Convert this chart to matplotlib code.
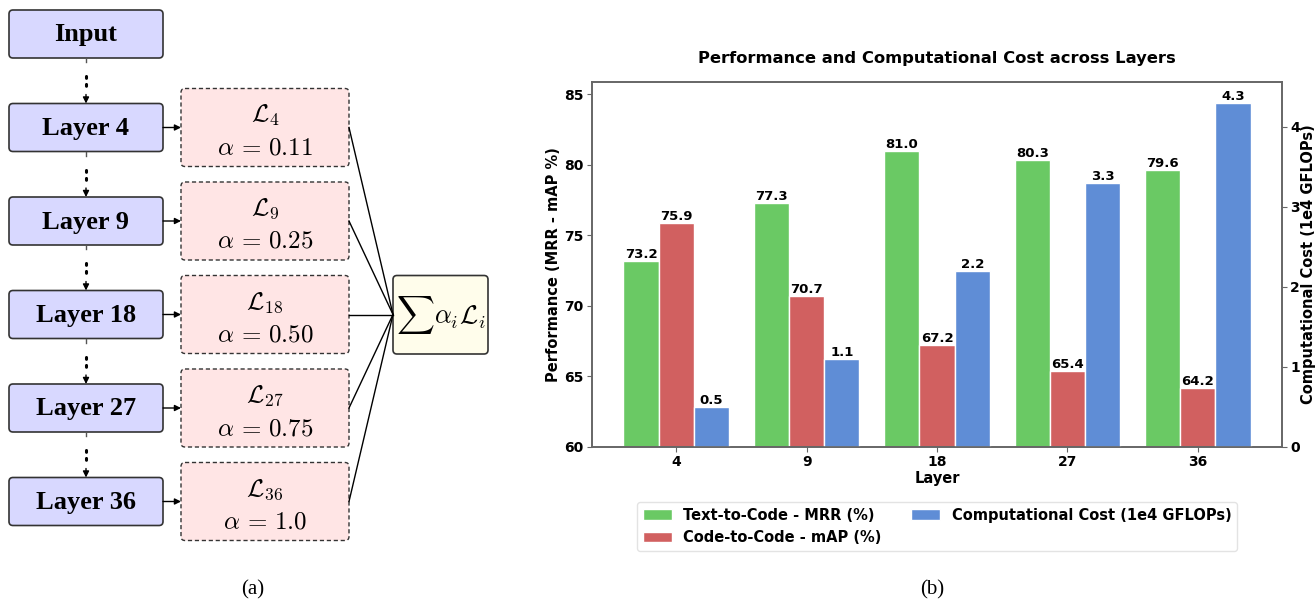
import numpy as np
import matplotlib
matplotlib.use("Agg")
import matplotlib.pyplot as plt
from matplotlib.patches import FancyBboxPatch

plt.rcParams['mathtext.fontset'] = 'cm'

# ---- data ----
layers = ["4", "9", "18", "27", "36"]
text_to_code = [73.2, 77.3, 81.0, 80.3, 79.6]
code_to_code = [75.9, 70.7, 67.2, 65.4, 64.2]
comp_cost = [0.5, 1.1, 2.2, 3.3, 4.3]
alphas = ["0.11", "0.25", "0.50", "0.75", "1.0"]

green = "#6ac964"
red = "#d16060"
blue = "#5f8dd6"

fig = plt.figure(figsize=(13.15, 6.03), dpi=100)

# -------------------------
# (a) diagram, in pixel coords
# -------------------------
ax0 = fig.add_axes([0, 0, 1, 1])
ax0.set_xlim(0, 1315)
ax0.set_ylim(603, 0)
ax0.axis("off")

serif = "Liberation Serif"
row_y = [34 + 93.5 * k for k in range(6)]
names = ["Input"] + ["Layer " + l for l in layers]

for i, (name, cy) in enumerate(zip(names, row_y)):
    ax0.add_patch(FancyBboxPatch((9, cy - 24), 154, 48,
                                 boxstyle="round,pad=0,rounding_size=4",
                                 fc="#d8d8ff", ec="#333333", lw=1.2))
    ax0.text(86, cy + 1, name, ha="center", va="center", family=serif,
             fontweight="bold", fontsize=19)
    if i > 0:
        top = row_y[i - 1] + 24
        ax0.plot([86, 86], [top, top + 4], color="#555555", lw=1)
        ax0.plot([86, 86], [top + 18, top + 32], color="black", lw=2.2,
                 linestyle=(0, (0.6, 2.0)), dash_capstyle="round")
        ax0.annotate("", xy=(86, cy - 24), xytext=(86, cy - 33),
                     arrowprops=dict(arrowstyle="-|>", color="black", lw=1,
                                     mutation_scale=9, shrinkA=0, shrinkB=0))
        # arrow to loss box
        ax0.annotate("", xy=(181, cy), xytext=(163, cy),
                     arrowprops=dict(arrowstyle="-|>", color="black", lw=1,
                                     mutation_scale=9, shrinkA=0, shrinkB=0))
        ax0.add_patch(FancyBboxPatch((181, cy - 39), 168, 78,
                                     boxstyle="round,pad=0,rounding_size=4",
                                     fc="#ffe5e5", ec="#333333", lw=1,
                                     linestyle=(0, (3, 2))))
        ax0.text(265, cy - 12, r"$\mathcal{L}_{%s}$" % layers[i - 1],
                 ha="center", va="center", fontsize=18)
        ax0.text(265, cy + 20, r"$\alpha \,=\, %s$" % alphas[i - 1],
                 ha="center", va="center", fontsize=18)
        ax0.plot([349, 393], [cy, row_y[3]], color="black", lw=1)

ax0.add_patch(FancyBboxPatch((393, 275.5), 95, 78.5,
                             boxstyle="round,pad=0,rounding_size=4",
                             fc="#fffdeb", ec="#333333", lw=1.2))
ax0.text(441, row_y[3], r"$\sum\alpha_i\mathcal{L}_i$", ha="center",
         va="center", fontsize=19)

ax0.text(253, 590, "(a)", ha="center", va="center", family=serif, fontsize=15)
ax0.text(932, 590, "(b)", ha="center", va="center", family=serif, fontsize=15)

# -------------------------
# (b) bar chart
# -------------------------
ax = fig.add_axes([592 / 1315, 156 / 603, 690 / 1315, 365 / 603])
ax2 = ax.twinx()

x = np.arange(len(layers))
w = 0.27
b1 = ax.bar(x - w, text_to_code, w, color=green, edgecolor="white", lw=1,
            label="Text-to-Code - MRR (%)")
b2 = ax.bar(x, code_to_code, w, color=red, edgecolor="white", lw=1,
            label="Code-to-Code - mAP (%)")
b3 = ax2.bar(x + w, comp_cost, w, color=blue, edgecolor="white", lw=1,
             label="Computational Cost (1e4 GFLOPs)")

ax.set_ylim(60, max(text_to_code) * 1.06)
ax2.set_ylim(0, max(comp_cost) * 1.06)

for bars, a in [(b1, ax), (b2, ax), (b3, ax2)]:
    for r in bars:
        h = r.get_height()
        a.text(r.get_x() + r.get_width() / 2, h, f"{h:.1f}", ha="center",
               va="bottom", fontsize=9.5, fontweight="bold")

ax.set_xticks(x)
ax.set_xticklabels(layers)
ax.set_xlabel("Layer", fontsize=10.5, fontweight="bold", labelpad=1)
ax.set_ylabel("Performance (MRR - mAP %)", fontsize=10.5, fontweight="bold",
              labelpad=2)
ax2.set_ylabel("Computational Cost (1e4 GFLOPs)", fontsize=10.5,
               fontweight="bold", labelpad=1)
ax.set_title("Performance and Computational Cost across Layers",
             fontsize=11.8, fontweight="bold", pad=14)

for a in (ax, ax2):
    for s in a.spines.values():
        s.set_color("#666666")
        s.set_linewidth(1.2)
    a.tick_params(colors="#666666", labelcolor="black", labelsize=10,
                  pad=2.5)
    for lab in a.get_xticklabels() + a.get_yticklabels():
        lab.set_fontweight("bold")

ax.legend([b1, b2, b3], [b1.get_label(), b2.get_label(), b3.get_label()],
          loc="upper center", bbox_to_anchor=(0.5, -0.13), ncol=2,
          prop={"weight": "bold", "size": 10.5}, frameon=True,
          edgecolor="#dddddd")

fig.savefig("out.png", dpi=100)
